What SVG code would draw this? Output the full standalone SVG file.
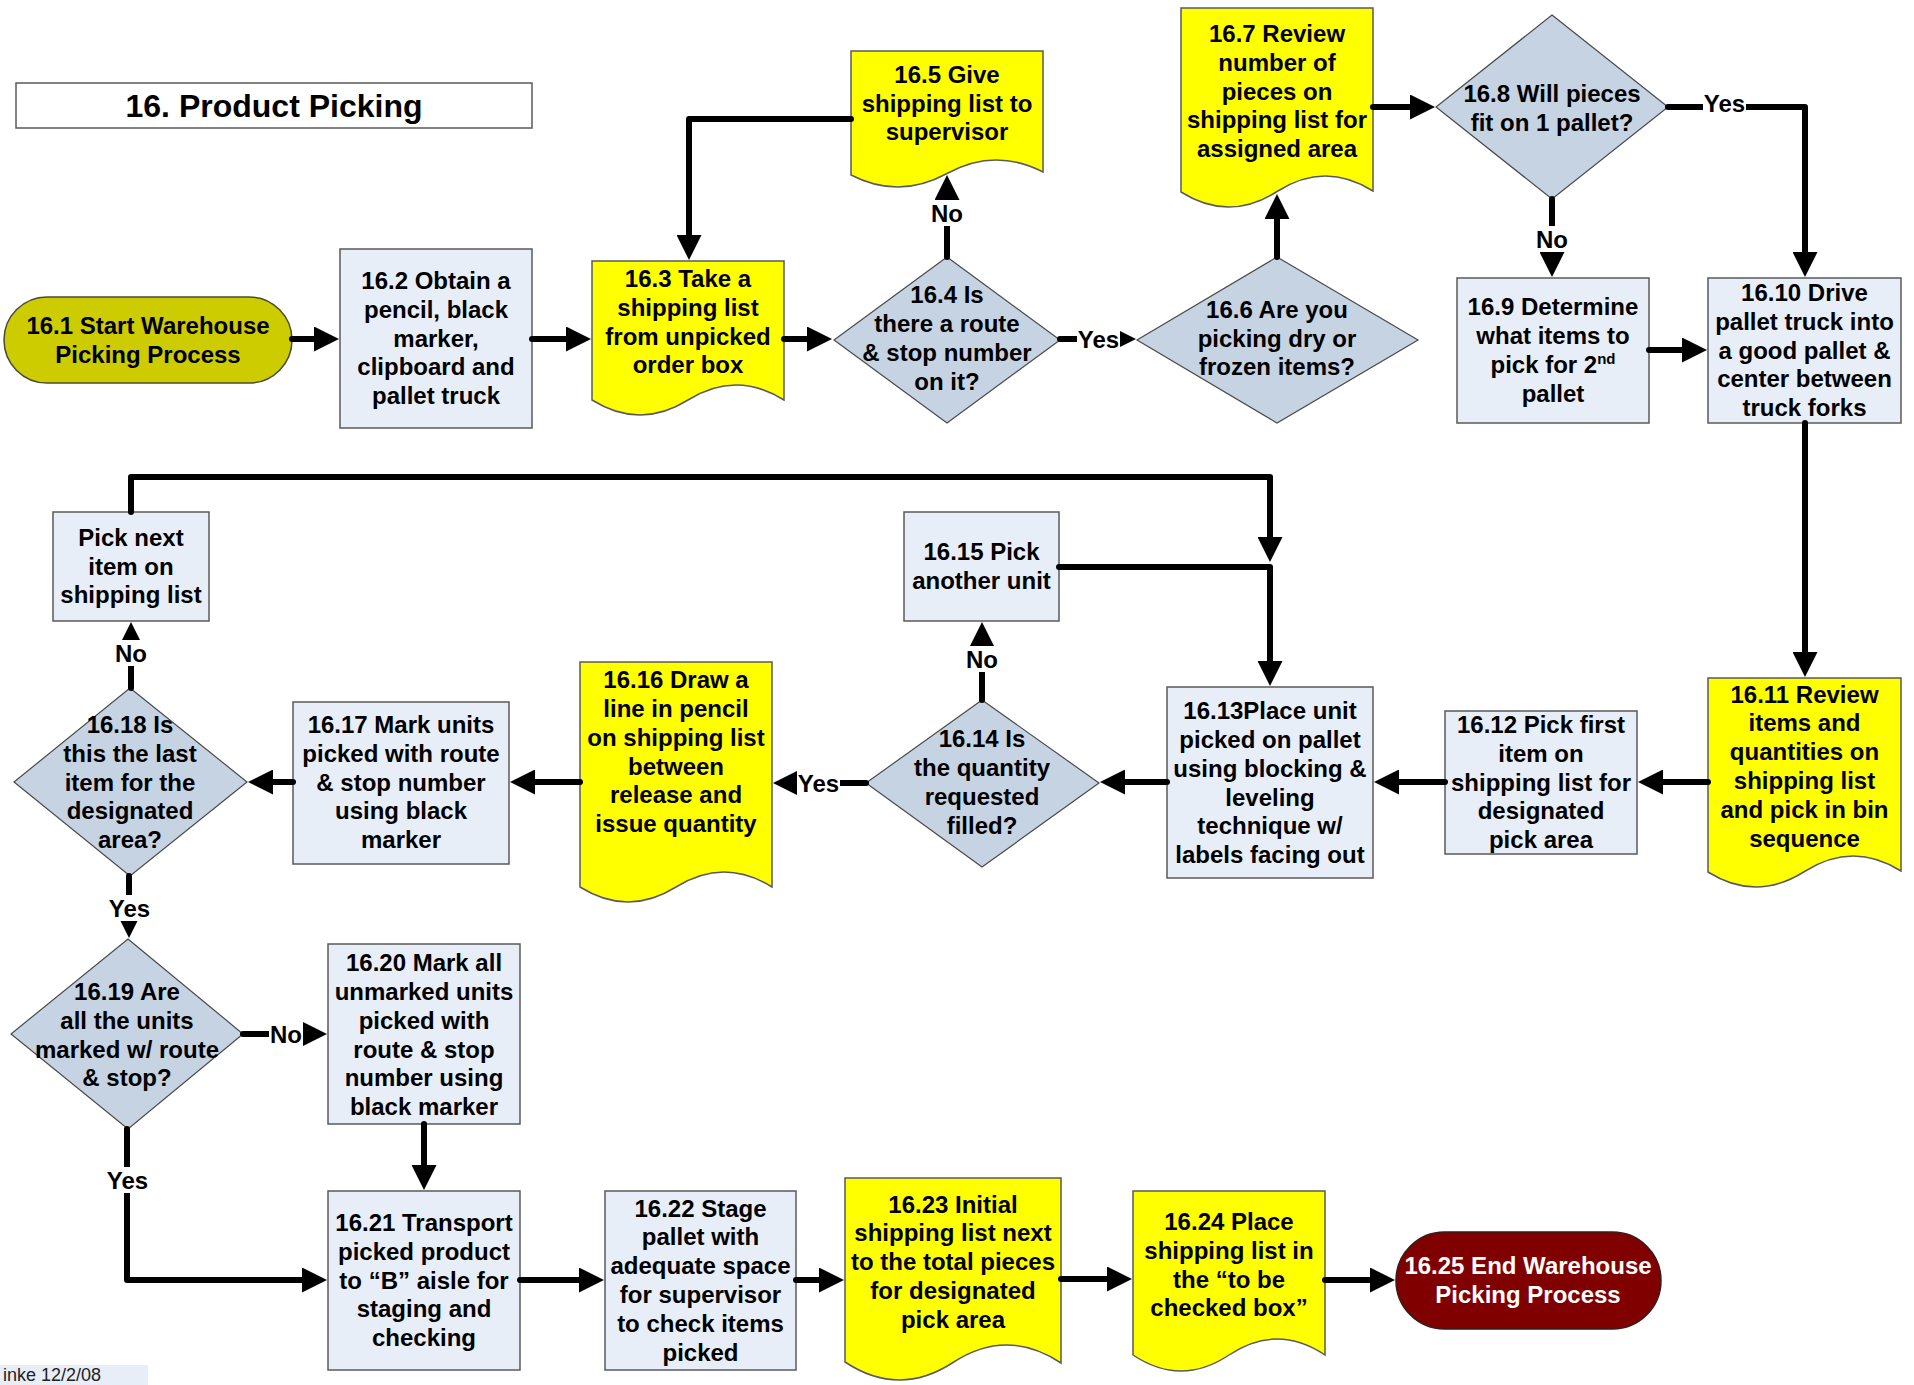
<svg xmlns="http://www.w3.org/2000/svg" width="1914" height="1385" viewBox="0 0 1914 1385">
<style>
.t{font-family:"Liberation Sans",Arial,sans-serif;font-size:24px;font-weight:bold;text-anchor:middle;fill:#000}
.w{fill:#fff}
.box{fill:#E8EEF7;stroke:#5a5a5a;stroke-width:1.5}
.dia{fill:#C6D3E3;stroke:#4a4a4a;stroke-width:1.2}
.doc{fill:#FFFF00;stroke:#5a5a5a;stroke-width:1.5}
.c{fill:none;stroke:#000;stroke-width:6;stroke-linecap:round;stroke-linejoin:round;marker-end:url(#ah)}
.lb{fill:#fff}
</style>
<defs>
<marker id="ah" markerUnits="userSpaceOnUse" viewBox="0 0 25 25" markerWidth="25" markerHeight="25" refX="1" refY="12.5" orient="auto">
<path d="M0,0 L25,12.5 L0,25 Z" fill="#000"/>
</marker>
</defs>
<rect width="1914" height="1385" fill="#fff"/>

<g id="title">
<rect x="16" y="83" width="516" height="45" fill="#fff" stroke="#5a5a5a" stroke-width="1.5"/>
<text class="t" x="274" y="117" style="font-size:32px">16. Product Picking</text>
</g>

<g id="n16_1">
<rect x="4" y="297" width="288" height="86" rx="43" fill="#CCCC00" stroke="#4a4a30" stroke-width="1.5"/>
<text class="t"><tspan x="148" y="333.7">16.1 Start Warehouse</tspan><tspan x="148" y="362.5">Picking Process</tspan></text>
</g>

<g id="n16_2">
<rect class="box" x="340" y="249" width="192" height="179"/>
<text class="t"><tspan x="436" y="289">16.2 Obtain a</tspan><tspan x="436" y="317.8">pencil, black</tspan><tspan x="436" y="346.6">marker,</tspan><tspan x="436" y="375.4">clipboard and</tspan><tspan x="436" y="404.2">pallet truck</tspan></text>
</g>

<g id="n16_3">
<path class="doc" d="M592,261 H784 V400 Q736,370 688,400 T592,400 Z"/>
<text class="t"><tspan x="688" y="286.9">16.3 Take a</tspan><tspan x="688" y="315.7">shipping list</tspan><tspan x="688" y="344.5">from unpicked</tspan><tspan x="688" y="373.3">order box</tspan></text>
</g>

<g id="n16_4">
<polygon class="dia" points="947,257 1060,340 947,423 834,340"/>
<text class="t"><tspan x="947" y="303.4">16.4 Is</tspan><tspan x="947" y="332.2">there a route</tspan><tspan x="947" y="361">&amp; stop number</tspan><tspan x="947" y="389.8">on it?</tspan></text>
</g>

<g id="n16_5">
<path class="doc" d="M851,51 H1043 V172 Q995,147.25 947,173.5 T851,175 Z"/>
<text class="t"><tspan x="947" y="82.8">16.5 Give</tspan><tspan x="947" y="111.6">shipping list to</tspan><tspan x="947" y="140.4">supervisor</tspan></text>
</g>

<g id="n16_6">
<polygon class="dia" points="1277,257 1418,340 1277,423 1137,340"/>
<text class="t"><tspan x="1277" y="317.8">16.6 Are you</tspan><tspan x="1277" y="346.6">picking dry or</tspan><tspan x="1277" y="375.4">frozen items?</tspan></text>
</g>

<g id="n16_7">
<path class="doc" d="M1181,8 H1373 V191 Q1325,160.75 1277,191.5 T1181,192 Z"/>
<text class="t"><tspan x="1277" y="42">16.7 Review</tspan><tspan x="1277" y="70.8">number of</tspan><tspan x="1277" y="99.6">pieces on</tspan><tspan x="1277" y="128.4">shipping list for</tspan><tspan x="1277" y="157.2">assigned area</tspan></text>
</g>

<g id="n16_8">
<polygon class="dia" points="1552,15 1668,107 1552,199 1436,107"/>
<text class="t"><tspan x="1552" y="101.7">16.8 Will pieces</tspan><tspan x="1552" y="130.5">fit on 1 pallet?</tspan></text>
</g>

<g id="n16_9">
<rect class="box" x="1457" y="278" width="192" height="145"/>
<text class="t"><tspan x="1553" y="315.4">16.9 Determine</tspan><tspan x="1553" y="344.2">what items to</tspan><tspan x="1553" y="373">pick for 2<tspan dy="-9" style="font-size:15px">nd</tspan></tspan><tspan x="1553" y="401.8">pallet</tspan></text>
</g>

<g id="n16_10">
<rect class="box" x="1708" y="278" width="193" height="145"/>
<text class="t"><tspan x="1804.5" y="301">16.10 Drive</tspan><tspan x="1804.5" y="329.8">pallet truck into</tspan><tspan x="1804.5" y="358.6">a good pallet &amp;</tspan><tspan x="1804.5" y="387.4">center between</tspan><tspan x="1804.5" y="416.2">truck forks</tspan></text>
</g>

<g id="n16_11">
<path class="doc" d="M1708,678 H1901 V871 Q1853,840.75 1804.5,871.5 T1708,872 Z"/>
<text class="t"><tspan x="1804.5" y="702.6">16.11 Review</tspan><tspan x="1804.5" y="731.4">items and</tspan><tspan x="1804.5" y="760.2">quantities on</tspan><tspan x="1804.5" y="789">shipping list</tspan><tspan x="1804.5" y="817.8">and pick in bin</tspan><tspan x="1804.5" y="846.6">sequence</tspan></text>
</g>

<g id="n16_12">
<rect class="box" x="1445" y="711" width="192" height="143"/>
<text class="t"><tspan x="1541" y="733">16.12 Pick first</tspan><tspan x="1541" y="761.8">item on</tspan><tspan x="1541" y="790.6">shipping list for</tspan><tspan x="1541" y="819.4">designated</tspan><tspan x="1541" y="848.2">pick area</tspan></text>
</g>

<g id="n16_13">
<rect class="box" x="1167" y="687" width="206" height="191"/>
<text class="t"><tspan x="1270" y="719.1">16.13Place unit</tspan><tspan x="1270" y="747.9">picked on pallet</tspan><tspan x="1270" y="776.7">using blocking &amp;</tspan><tspan x="1270" y="805.5">leveling</tspan><tspan x="1270" y="834.3">technique w/</tspan><tspan x="1270" y="863.1">labels facing out</tspan></text>
</g>

<g id="n16_14">
<polygon class="dia" points="982,700 1099,783 982,867 866,783"/>
<text class="t"><tspan x="982" y="747.4">16.14 Is</tspan><tspan x="982" y="776.2">the quantity</tspan><tspan x="982" y="805">requested</tspan><tspan x="982" y="833.8">filled?</tspan></text>
</g>

<g id="n16_15">
<rect class="box" x="904" y="512" width="155" height="109"/>
<text class="t"><tspan x="981.5" y="560.2">16.15 Pick</tspan><tspan x="981.5" y="589">another unit</tspan></text>
</g>

<g id="n16_16">
<path class="doc" d="M580,662 H772 V887 Q724,857 676,887 T580,887 Z"/>
<text class="t"><tspan x="676" y="688.1">16.16 Draw a</tspan><tspan x="676" y="716.9">line in pencil</tspan><tspan x="676" y="745.7">on shipping list</tspan><tspan x="676" y="774.5">between</tspan><tspan x="676" y="803.3">release and</tspan><tspan x="676" y="832.1">issue quantity</tspan></text>
</g>

<g id="n16_17">
<rect class="box" x="293" y="702" width="216" height="162"/>
<text class="t"><tspan x="401" y="733">16.17 Mark units</tspan><tspan x="401" y="761.8">picked with route</tspan><tspan x="401" y="790.6">&amp; stop number</tspan><tspan x="401" y="819.4">using black</tspan><tspan x="401" y="848.2">marker</tspan></text>
</g>

<g id="n16_18">
<polygon class="dia" points="130,688 247,782 130,876 14,782"/>
<text class="t"><tspan x="130" y="733">16.18 Is</tspan><tspan x="130" y="761.8">this the last</tspan><tspan x="130" y="790.6">item for the</tspan><tspan x="130" y="819.4">designated</tspan><tspan x="130" y="848.2">area?</tspan></text>
</g>

<g id="n_pick_next">
<rect class="box" x="53" y="512" width="156" height="109"/>
<text class="t"><tspan x="131" y="545.8">Pick next</tspan><tspan x="131" y="574.6">item on</tspan><tspan x="131" y="603.4">shipping list</tspan></text>
</g>

<g id="n16_19">
<polygon class="dia" points="128,939 243,1034 128,1129 11,1034"/>
<text class="t"><tspan x="127" y="999.9">16.19 Are</tspan><tspan x="127" y="1028.7">all the units</tspan><tspan x="127" y="1057.5">marked w/ route</tspan><tspan x="127" y="1086.3">&amp; stop?</tspan></text>
</g>

<g id="n16_20">
<rect class="box" x="328" y="944" width="192" height="180"/>
<text class="t"><tspan x="424" y="971.1">16.20 Mark all</tspan><tspan x="424" y="999.9">unmarked units</tspan><tspan x="424" y="1028.7">picked with</tspan><tspan x="424" y="1057.5">route &amp; stop</tspan><tspan x="424" y="1086.3">number using</tspan><tspan x="424" y="1115.1">black marker</tspan></text>
</g>

<g id="n16_21">
<rect class="box" x="328" y="1191" width="192" height="179"/>
<text class="t"><tspan x="424" y="1231">16.21 Transport</tspan><tspan x="424" y="1259.8">picked product</tspan><tspan x="424" y="1288.6">to “B” aisle for</tspan><tspan x="424" y="1317.4">staging and</tspan><tspan x="424" y="1346.2">checking</tspan></text>
</g>

<g id="n16_22">
<rect class="box" x="605" y="1191" width="191" height="179"/>
<text class="t"><tspan x="700.5" y="1216.6">16.22 Stage</tspan><tspan x="700.5" y="1245.4">pallet with</tspan><tspan x="700.5" y="1274.2">adequate space</tspan><tspan x="700.5" y="1303">for supervisor</tspan><tspan x="700.5" y="1331.8">to check items</tspan><tspan x="700.5" y="1360.6">picked</tspan></text>
</g>

<g id="n16_23">
<path class="doc" d="M845,1178 H1061 V1363 Q1007,1327.25 953,1362.5 T845,1362 Z"/>
<text class="t"><tspan x="953" y="1212.5">16.23 Initial</tspan><tspan x="953" y="1241.3">shipping list next</tspan><tspan x="953" y="1270.1">to the total pieces</tspan><tspan x="953" y="1298.9">for designated</tspan><tspan x="953" y="1327.7">pick area</tspan></text>
</g>

<g id="n16_24">
<path class="doc" d="M1133,1191 H1325 V1355 Q1277,1323 1229,1355 T1133,1355 Z"/>
<text class="t"><tspan x="1229" y="1229.9">16.24 Place</tspan><tspan x="1229" y="1258.7">shipping list in</tspan><tspan x="1229" y="1287.5">the “to be</tspan><tspan x="1229" y="1316.3">checked box”</tspan></text>
</g>

<g id="n16_25">
<rect x="1396" y="1232" width="265" height="97" rx="48.5" fill="#800000" stroke="#3a1a1a" stroke-width="1.5"/>
<text class="t" style="fill:#fff"><tspan x="1528" y="1274.2">16.25 End Warehouse</tspan><tspan x="1528" y="1303">Picking Process</tspan></text>
</g>

<g id="connectors">
<path class="c" d="M292,339 H315"/>
<path class="c" d="M532,339 H567"/>
<path class="c" d="M784,339 H808"/>
<path class="c" d="M1060,339 H1112"/>
<path class="c" d="M947,257 V199"/>
<path class="c" d="M851,119 H689 V236"/>
<path class="c" d="M1277,257 V218"/>
<path class="c" d="M1373,107 H1411"/>
<path class="c" d="M1668,107 H1805 V253"/>
<path class="c" d="M1552,199 V253"/>
<path class="c" d="M1649,350 H1683"/>
<path class="c" d="M1805,423 V653"/>
<path class="c" d="M1708,782 H1662"/>
<path class="c" d="M1445,782 H1398"/>
<path class="c" d="M1167,782 H1124"/>
<path class="c" d="M982,700 V646"/>
<path class="c" d="M1059,567 H1270 V662"/>
<path class="c" d="M131,512 V477 H1270 V538"/>
<path class="c" d="M866,783 H797"/>
<path class="c" d="M580,782 H534"/>
<path class="c" d="M293,782 H272"/>
<path class="c" d="M131,688 V646"/>
<path class="c" d="M129,876 V914"/>
<path class="c" d="M243,1034 H303"/>
<path class="c" d="M424,1124 V1166"/>
<path class="c" d="M127,1129 V1280 H303"/>
<path class="c" d="M520,1280 H580"/>
<path class="c" d="M796,1280 H820"/>
<path class="c" d="M1061,1279 H1108"/>
<path class="c" d="M1325,1280 H1371"/>
<g id="labels">
<rect class="lb" x="1077" y="326" width="43" height="26"/><text class="t" x="1098.5" y="347.6">Yes</text>
<rect class="lb" x="930" y="200" width="34" height="26"/><text class="t" x="947" y="221.6">No</text>
<rect class="lb" x="1703" y="90" width="43" height="26"/><text class="t" x="1724.5" y="111.6">Yes</text>
<rect class="lb" x="1535" y="226" width="34" height="26"/><text class="t" x="1552" y="247.6">No</text>
<rect class="lb" x="965" y="646" width="34" height="26"/><text class="t" x="982" y="667.6">No</text>
<rect class="lb" x="797" y="770" width="43" height="26"/><text class="t" x="818.5" y="791.6">Yes</text>
<rect class="lb" x="114" y="640" width="34" height="26"/><text class="t" x="131" y="661.6">No</text>
<rect class="lb" x="108" y="895" width="43" height="26"/><text class="t" x="129.5" y="916.6">Yes</text>
<rect class="lb" x="269" y="1021" width="34" height="26"/><text class="t" x="286" y="1042.6">No</text>
<rect class="lb" x="106" y="1167" width="43" height="26"/><text class="t" x="127.5" y="1188.6">Yes</text>
</g>
</g>

<g id="footer">
<rect x="0" y="1365" width="148" height="20" fill="#E8EEF7"/>
<text x="3" y="1381" style="font-family:'Liberation Sans',Arial,sans-serif;font-size:18px;fill:#222">inke 12/2/08</text>
</g>
</svg>
